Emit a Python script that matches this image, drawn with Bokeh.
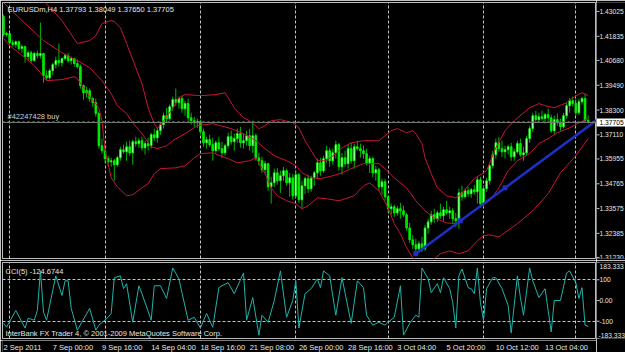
from bokeh.plotting import figure
from bokeh.layouts import row, column
from bokeh.models import Range1d, FixedTicker, Grid, ColumnDataSource, Span
from bokeh.core.properties import value
from bokeh.embed import file_html
from bokeh.resources import INLINE

# ---------------- data ----------------
SYMBOL = "EURUSDm,H4"

opens = [
    1.4278, 1.4192, 1.4197, 1.4153, 1.4144, 1.4158, 1.4125, 1.4134, 1.4086, 1.4105,
    1.4067, 1.4101, 1.4091, 1.4101, 1.3995, 1.3985, 1.4019, 1.4048, 1.4067, 1.4057,
    1.4077, 1.4091, 1.4067, 1.4077, 1.4053, 1.4038, 1.3947, 1.3913, 1.3923, 1.3885,
    1.3865, 1.3813, 1.3659, 1.3635, 1.3597, 1.3582, 1.3587, 1.3568, 1.3601, 1.3640,
    1.3630, 1.3654, 1.3625, 1.3678, 1.3669, 1.3683, 1.3649, 1.3669, 1.3659, 1.3712,
    1.3697, 1.3731, 1.3760, 1.3803, 1.3789, 1.3846, 1.3880, 1.3865, 1.3885, 1.3837,
    1.3861, 1.3793, 1.3779, 1.3769, 1.3774, 1.3726, 1.3673, 1.3688, 1.3664, 1.3635,
    1.3673, 1.3645, 1.3625, 1.3659, 1.3702, 1.3678, 1.3693, 1.3717, 1.3673, 1.3683,
    1.3707, 1.3659, 1.3707, 1.3601, 1.3587, 1.3544, 1.3573, 1.3462, 1.3481, 1.3529,
    1.3491, 1.3515, 1.3539, 1.3481, 1.3505, 1.3419, 1.3520, 1.3400, 1.3467, 1.3501,
    1.3453, 1.3505, 1.3529, 1.3577, 1.3539, 1.3597, 1.3635, 1.3587, 1.3625, 1.3664,
    1.3558, 1.3601, 1.3573, 1.3645, 1.3587, 1.3654, 1.3645, 1.3635, 1.3621, 1.3577,
    1.3597, 1.3529, 1.3544, 1.3462, 1.3486, 1.3414, 1.3357, 1.3366, 1.3337, 1.3357,
    1.3347, 1.3328, 1.3265, 1.3208, 1.3184, 1.3165, 1.3189, 1.3165, 1.3265, 1.3294,
    1.3328, 1.3309, 1.3337, 1.3323, 1.3352, 1.3337, 1.3347, 1.3309, 1.3299, 1.3433,
    1.3414, 1.3443, 1.3429, 1.3448, 1.3438, 1.3496, 1.3381, 1.3453, 1.3491, 1.3563,
    1.3616, 1.3673, 1.3645, 1.3630, 1.3640, 1.3654, 1.3606, 1.3630, 1.3669, 1.3616,
    1.3625, 1.3693, 1.3741, 1.3803, 1.3784, 1.3798, 1.3789, 1.3808, 1.3793, 1.3731,
    1.3784, 1.3769, 1.3750, 1.3803, 1.3851, 1.3875, 1.3861, 1.3817, 1.3870, 1.3885,
    1.37793,
]
highs = [
    1.4288, 1.4206, 1.4201, 1.4168, 1.4163, 1.4163, 1.4144, 1.4139, 1.4115, 1.4115,
    1.4110, 1.4115, 1.4249, 1.4105, 1.4019, 1.4029, 1.4057, 1.4086, 1.4149, 1.4081,
    1.4101, 1.4105, 1.4086, 1.4081, 1.4072, 1.4048, 1.3952, 1.3942, 1.3933, 1.3894,
    1.3885, 1.3822, 1.3693, 1.3645, 1.3611, 1.3601, 1.3597, 1.3611, 1.3654, 1.3664,
    1.3678, 1.3683, 1.3688, 1.3702, 1.3697, 1.3702, 1.3683, 1.3697, 1.3721, 1.3741,
    1.3745, 1.3774, 1.3817, 1.3841, 1.3856, 1.3894, 1.3933, 1.3894, 1.3899, 1.3875,
    1.3885, 1.3817, 1.3798, 1.3789, 1.3784, 1.3741, 1.3702, 1.3712, 1.3697, 1.3683,
    1.3702, 1.3678, 1.3669, 1.3721, 1.3731, 1.3717, 1.3741, 1.3750, 1.3717, 1.3731,
    1.3741, 1.3779, 1.3717, 1.3625, 1.3606, 1.3587, 1.3577, 1.3510, 1.3549, 1.3553,
    1.3539, 1.3558, 1.3549, 1.3529, 1.3525, 1.3539, 1.3529, 1.3491, 1.3510, 1.3520,
    1.3515, 1.3539, 1.3597, 1.3601, 1.3611, 1.3659, 1.3649, 1.3645, 1.3683, 1.3673,
    1.3625, 1.3635, 1.3664, 1.3673, 1.3669, 1.3683, 1.3669, 1.3659, 1.3645, 1.3611,
    1.3606, 1.3563, 1.3553, 1.3501, 1.3501, 1.3424, 1.3381, 1.3376, 1.3371, 1.3385,
    1.3371, 1.3337, 1.3289, 1.3232, 1.3213, 1.3203, 1.3222, 1.3280, 1.3309, 1.3347,
    1.3357, 1.3347, 1.3381, 1.3366, 1.3395, 1.3366, 1.3361, 1.3337, 1.3453, 1.3467,
    1.3453, 1.3462, 1.3457, 1.3472, 1.3510, 1.3510, 1.3467, 1.3505, 1.3577, 1.3635,
    1.3693, 1.3702, 1.3683, 1.3659, 1.3664, 1.3673, 1.3645, 1.3683, 1.3693, 1.3654,
    1.3707, 1.3755, 1.3817, 1.3827, 1.3817, 1.3827, 1.3817, 1.3837, 1.3808, 1.3803,
    1.3813, 1.3789, 1.3817, 1.3865, 1.3889, 1.3894, 1.3885, 1.3885, 1.3894, 1.3909,
    1.38049,
]
lows = [
    1.4182, 1.4182, 1.4144, 1.4134, 1.4129, 1.4115, 1.4105, 1.4057, 1.4067, 1.4057,
    1.4062, 1.4077, 1.4077, 1.3961, 1.3971, 1.3976, 1.4000, 1.4029, 1.4038, 1.4038,
    1.4067, 1.4057, 1.4048, 1.4038, 1.4029, 1.3933, 1.3880, 1.3889, 1.3870, 1.3846,
    1.3798, 1.3645, 1.3621, 1.3577, 1.3563, 1.3558, 1.3491, 1.3558, 1.3587, 1.3621,
    1.3587, 1.3611, 1.3568, 1.3654, 1.3649, 1.3635, 1.3616, 1.3635, 1.3645, 1.3683,
    1.3673, 1.3712, 1.3741, 1.3769, 1.3779, 1.3827, 1.3851, 1.3837, 1.3817, 1.3803,
    1.3779, 1.3760, 1.3750, 1.3745, 1.3712, 1.3654, 1.3645, 1.3654, 1.3587, 1.3625,
    1.3635, 1.3601, 1.3611, 1.3645, 1.3664, 1.3635, 1.3673, 1.3649, 1.3645, 1.3659,
    1.3635, 1.3625, 1.3587, 1.3563, 1.3529, 1.3525, 1.3443, 1.3381, 1.3462, 1.3472,
    1.3433, 1.3491, 1.3467, 1.3414, 1.3400, 1.3409, 1.3385, 1.3357, 1.3429, 1.3433,
    1.3438, 1.3467, 1.3501, 1.3515, 1.3529, 1.3577, 1.3558, 1.3568, 1.3597, 1.3539,
    1.3520, 1.3558, 1.3549, 1.3573, 1.3549, 1.3635, 1.3601, 1.3597, 1.3563, 1.3529,
    1.3510, 1.3491, 1.3443, 1.3424, 1.3395, 1.3337, 1.3328, 1.3318, 1.3323, 1.3309,
    1.3318, 1.3251, 1.3193, 1.3165, 1.3141, 1.3145, 1.3150, 1.3155, 1.3237, 1.3280,
    1.3289, 1.3294, 1.3309, 1.3299, 1.3328, 1.3309, 1.3289, 1.3270, 1.3261, 1.3395,
    1.3405, 1.3414, 1.3409, 1.3424, 1.3381, 1.3361, 1.3366, 1.3438, 1.3472, 1.3549,
    1.3597, 1.3630, 1.3606, 1.3597, 1.3616, 1.3587, 1.3587, 1.3621, 1.3606, 1.3587,
    1.3611, 1.3673, 1.3726, 1.3769, 1.3769, 1.3779, 1.3765, 1.3779, 1.3721, 1.3712,
    1.3755, 1.3731, 1.3741, 1.3789, 1.3817, 1.3846, 1.3803, 1.3808, 1.3856, 1.3774,
    1.37650,
]
closes = [
    1.4192, 1.4197, 1.4153, 1.4144, 1.4158, 1.4125, 1.4134, 1.4086, 1.4105, 1.4067,
    1.4101, 1.4091, 1.4101, 1.3995, 1.3985, 1.4019, 1.4048, 1.4067, 1.4057, 1.4077,
    1.4091, 1.4067, 1.4077, 1.4053, 1.4038, 1.3947, 1.3913, 1.3923, 1.3885, 1.3865,
    1.3813, 1.3659, 1.3635, 1.3597, 1.3582, 1.3587, 1.3568, 1.3601, 1.3640, 1.3630,
    1.3654, 1.3625, 1.3678, 1.3669, 1.3683, 1.3649, 1.3669, 1.3659, 1.3712, 1.3697,
    1.3731, 1.3760, 1.3803, 1.3789, 1.3846, 1.3880, 1.3865, 1.3885, 1.3837, 1.3861,
    1.3793, 1.3779, 1.3769, 1.3774, 1.3726, 1.3673, 1.3688, 1.3664, 1.3635, 1.3673,
    1.3645, 1.3625, 1.3659, 1.3702, 1.3678, 1.3693, 1.3717, 1.3673, 1.3683, 1.3707,
    1.3659, 1.3707, 1.3601, 1.3587, 1.3544, 1.3573, 1.3462, 1.3481, 1.3529, 1.3491,
    1.3515, 1.3539, 1.3481, 1.3505, 1.3419, 1.3520, 1.3400, 1.3467, 1.3501, 1.3453,
    1.3505, 1.3529, 1.3577, 1.3539, 1.3597, 1.3635, 1.3587, 1.3625, 1.3664, 1.3558,
    1.3601, 1.3573, 1.3645, 1.3587, 1.3654, 1.3645, 1.3635, 1.3621, 1.3577, 1.3597,
    1.3529, 1.3544, 1.3462, 1.3486, 1.3414, 1.3357, 1.3366, 1.3337, 1.3357, 1.3347,
    1.3328, 1.3265, 1.3208, 1.3184, 1.3165, 1.3189, 1.3165, 1.3265, 1.3294, 1.3328,
    1.3309, 1.3337, 1.3323, 1.3352, 1.3337, 1.3347, 1.3309, 1.3299, 1.3433, 1.3414,
    1.3443, 1.3429, 1.3448, 1.3438, 1.3496, 1.3381, 1.3453, 1.3491, 1.3563, 1.3616,
    1.3673, 1.3645, 1.3630, 1.3640, 1.3654, 1.3606, 1.3630, 1.3669, 1.3616, 1.3625,
    1.3693, 1.3741, 1.3803, 1.3784, 1.3798, 1.3789, 1.3808, 1.3793, 1.3731, 1.3784,
    1.3769, 1.3750, 1.3803, 1.3851, 1.3875, 1.3861, 1.3817, 1.3870, 1.3885, 1.3779,
    1.37705,
]

# Bollinger bands, read at the bars where they bend
upper_bars = [0, 6, 13, 19, 24, 28, 30, 32, 35, 36, 38, 40, 43, 45, 47, 49, 50, 52, 55, 57,
              59, 64, 69, 72, 75, 78, 80, 83, 85, 87, 90, 94, 96, 98, 100, 102, 105, 108, 110, 113,
              117, 122, 124, 126, 128, 131, 133, 134, 136, 137, 139, 141, 144, 147, 149, 151, 153, 157, 160, 163,
              166, 171, 174, 176, 179, 183, 185, 188, 190]
upper_vals = [1.4523, 1.4451, 1.4355, 1.4259, 1.4149, 1.4163, 1.4187, 1.4245, 1.4259, 1.4254,
              1.4225, 1.4149, 1.4033, 1.3957, 1.3841, 1.3765, 1.3741, 1.3779, 1.3837, 1.3889,
              1.3904, 1.3899, 1.3904, 1.3913, 1.3841, 1.3793, 1.3779, 1.3741, 1.3755, 1.3779,
              1.3784, 1.3769, 1.3745, 1.3683, 1.3635, 1.3587, 1.3587, 1.3621, 1.3649, 1.3673,
              1.3683, 1.3683, 1.3707, 1.3731, 1.3741, 1.3721, 1.3731, 1.3717, 1.3669, 1.3601,
              1.3525, 1.3457, 1.3419, 1.3409, 1.3429, 1.3467, 1.3501, 1.3539, 1.3649, 1.3731,
              1.3779, 1.3841, 1.3861, 1.3851, 1.3841, 1.3865, 1.3889, 1.3913, 1.3899]
mid_bars = [0, 6, 13, 19, 24, 28, 32, 35, 37, 40, 42, 45, 48, 50, 53, 55, 59, 63, 68, 74,
            78, 82, 85, 88, 92, 95, 97, 100, 103, 107, 110, 113, 117, 122, 124, 127, 131, 134, 137, 140,
            144, 147, 150, 153, 158, 161, 164, 167, 171, 174, 177, 180, 184, 187, 190]
mid_vals = [1.4345, 1.4259, 1.4163, 1.4105, 1.4067, 1.4033, 1.3971, 1.3909, 1.3851, 1.3813,
            1.3769, 1.3717, 1.3654, 1.3645, 1.3659, 1.3683, 1.3717, 1.3755, 1.3765, 1.3741,
            1.3717, 1.3683, 1.3645, 1.3611, 1.3587, 1.3563, 1.3529, 1.3505, 1.3501, 1.3515,
            1.3529, 1.3549, 1.3573, 1.3573, 1.3549, 1.3505, 1.3457, 1.3395, 1.3347, 1.3313,
            1.3289, 1.3285, 1.3313, 1.3347, 1.3395, 1.3457, 1.3539, 1.3587, 1.3621, 1.3669,
            1.3693, 1.3721, 1.3745, 1.3769, 1.3789]
lower_bars = [0, 2, 7, 10, 12, 14, 19, 23, 24, 26, 29, 30, 31, 32, 33, 34, 35, 37, 40, 42,
              45, 47, 49, 51, 56, 59, 62, 64, 68, 73, 76, 80, 82, 85, 87, 89, 92, 95, 97, 99,
              102, 105, 109, 112, 114, 117, 119, 122, 125, 127, 129, 131, 133, 136, 140, 142, 145, 148, 151, 154,
              156, 158, 161, 167, 172, 177, 181, 186, 190]
lower_vals = [1.4173, 1.4139, 1.4081, 1.4043, 1.4009, 1.3971, 1.3976, 1.3990, 1.3981, 1.3937,
              1.3875, 1.3861, 1.3837, 1.3779, 1.3635, 1.3573, 1.3505, 1.3462, 1.3419, 1.3424,
              1.3457, 1.3477, 1.3525, 1.3549, 1.3553, 1.3563, 1.3601, 1.3621, 1.3625, 1.3597,
              1.3577, 1.3587, 1.3601, 1.3525, 1.3457, 1.3419, 1.3395, 1.3381, 1.3357, 1.3371,
              1.3409, 1.3405, 1.3395, 1.3409, 1.3419, 1.3467, 1.3481, 1.3443, 1.3361, 1.3285,
              1.3237, 1.3170, 1.3121, 1.3097, 1.3117, 1.3141, 1.3155, 1.3141, 1.3155, 1.3203,
              1.3227, 1.3232, 1.3222, 1.3285, 1.3347, 1.3429, 1.3529, 1.3611, 1.3693]

# CCI(5), read at its turning points
cci_bars = [0, 1, 4, 7, 8, 10, 11, 12, 13, 14, 17, 19, 20, 21, 22, 24, 28, 30, 31, 34,
            35, 36, 38, 39, 40, 42, 44, 45, 48, 49, 51, 53, 55, 57, 58, 60, 62, 64, 66, 68,
            70, 71, 73, 75, 78, 79, 81, 83, 84, 86, 88, 90, 92, 94, 95, 96, 98, 100, 102, 103,
            104, 106, 108, 110, 113, 115, 117, 118, 120, 122, 124, 125, 127, 129, 130, 132, 134, 135, 136, 138,
            139, 141, 142, 143, 145, 146, 147, 148, 149, 151, 152, 153, 154, 155, 156, 157, 159, 160, 162, 164,
            165, 167, 168, 169, 171, 172, 174, 176, 178, 179, 181, 183, 184, 186, 187, 188, 189, 190]
cci_vals = [-110, -129, -48, -133, -86, -95, -48, 143, -57, -95, 119, 24, 95, 95, -38, -143, -38, -143, -119, -81,
            -62, 110, 119, 57, 81, -105, 71, 33, -95, 71, 71, 10, 157, 105, 38, -95, -81, -133, -62, -129,
            62, 71, 86, 33, 133, -95, 14, -167, -71, -105, 0, 143, -81, 0, 95, -133, 33, 57, 105, 62,
            143, 119, -71, 110, -110, 95, 62, -71, -119, -105, -119, -105, -81, 71, -167, -110, -71, -81, 157, 105,
            38, 81, 38, 110, 57, -10, -133, 119, 152, 62, 57, 33, 157, -10, -95, 57, 110, 110, 57, -24,
            -157, 119, 14, -71, 157, 95, 14, 57, -152, 0, 0, 133, 143, 86, 10, 62, -119, -124.6744]

# trend line anchors (bar, price)
trend_bars = [134, 163]
trend_prices = [1.3141, 1.3457]

order_price = 1.37740
order_label = "#42247428 buy"
bid = 1.37705

price_ticks = [1.43025, 1.41835, 1.40680, 1.39490, 1.38300, 1.37110,
               1.35955, 1.34765, 1.33575, 1.32385, 1.31230]
cci_mid_ticks = [100, 0, -100]
cci_mid_labels = ["100", "0.00", "-100"]
cci_max = 183.333
cci_levels = [100, -100]
grid_bars = [2, 33, 64, 95, 125, 156, 186]
date_bars = [0, 16, 32, 48, 64, 80, 96, 112, 128, 144, 160, 176]
date_labels = ["2 Sep 2011", "7 Sep 00:00", "9 Sep 16:00", "14 Sep 04:00", "18 Sep 16:00",
               "21 Sep 08:00", "26 Sep 00:00", "28 Sep 16:00", "3 Oct 04:00", "5 Oct 20:00",
               "10 Oct 12:00", "13 Oct 04:00"]
copyright_text = "InterBank FX Trader 4, \u00a9 2001-2009 MetaQuotes Software Corp."

# ---------------- styling ----------------
FONT = value("Liberation Sans")
FS = "7.5px"
FS_AX = "6.7px"
TXT = "#e6e6e6"
GRIDC = "#c4c4c4"
BORDER = "#bdbdbd"
BB = "#c8143a"
WICK = "#00b400"
BLUE = "#1e30c4"

xr = Range1d(-0.325, 192.72)
yr = Range1d(1.31182, 1.434565)
cyr = Range1d(-cci_max, cci_max)


def panel(w, h, x_range, y_range, left, right, top, bottom, outline=None):
    f = figure(width=w, height=h, x_range=x_range, y_range=y_range, title=None,
               output_backend="svg", toolbar_location=None,
               x_axis_location=None, y_axis_location=None,
               min_border_left=left, min_border_right=right,
               min_border_top=top, min_border_bottom=bottom)
    f.background_fill_color = "black"
    f.border_fill_color = "black"
    f.outline_line_color = outline
    f.grid.visible = False
    return f


def tx(f, x, y, text, **kw):
    opts = dict(text_font=FONT, text_font_size=FS, text_color=TXT,
                text_align="left", text_baseline="middle")
    opts.update(kw)
    f.text(x=x, y=y, text=text, **opts)


# ---------------- main price panel ----------------
main = panel(596, 260, xr, yr, 2, 0, 2, 2, BORDER)
main.add_layout(Grid(dimension=0, ticker=FixedTicker(ticks=grid_bars),
                     grid_line_color=GRIDC, grid_line_dash="3 2", grid_line_width=1))

main.add_layout(Span(location=bid, dimension="width", line_color="#7a7a7a", line_width=1))
main.add_layout(Span(location=order_price, dimension="width", line_color="#3fa03f",
                     line_width=1, line_dash="2 3"))

n = len(closes)
bars = list(range(n))
is_up = [c >= o for o, c in zip(opens, closes)]
all_src = ColumnDataSource(dict(x=bars, high=highs, low=lows))
up_src = ColumnDataSource(dict(
    x=[i for i in bars if is_up[i]],
    top=[closes[i] for i in bars if is_up[i]],
    bottom=[opens[i] for i in bars if is_up[i]]))
dn_src = ColumnDataSource(dict(
    x=[i for i in bars if not is_up[i]],
    top=[opens[i] for i in bars if not is_up[i]],
    bottom=[closes[i] for i in bars if not is_up[i]]))

main.segment(x0="x", y0="low", x1="x", y1="high", source=all_src, line_color=WICK, line_width=1)
main.vbar(x="x", width=0.55, top="top", bottom="bottom", source=up_src,
          fill_color="#c8ffc8", line_color="#00ff00", line_width=0.8)
main.vbar(x="x", width=0.55, top="top", bottom="bottom", source=dn_src,
          fill_color="#00e000", line_color="#00ff00", line_width=0.8)

main.line(upper_bars, upper_vals, line_color=BB, line_width=1)
main.line(mid_bars, mid_vals, line_color=BB, line_width=1)
main.line(lower_bars, lower_vals, line_color=BB, line_width=1)

slope = (trend_prices[1] - trend_prices[0]) / (trend_bars[1] - trend_bars[0])
main.line([trend_bars[0], xr.end],
          [trend_prices[0], trend_prices[0] + slope * (xr.end - trend_bars[0])],
          line_color=BLUE, line_width=2.5)
main.scatter([trend_bars[0], (trend_bars[0] + trend_bars[1]) / 2, trend_bars[1]],
             [trend_prices[0], (trend_prices[0] + trend_prices[1]) / 2, trend_prices[1]],
             marker="square", size=4, fill_color=BLUE, line_color=BLUE)

header = f"{SYMBOL}  {opens[-1]:.5f} {highs[-1]:.5f} {lows[-1]:.5f} {closes[-1]:.5f}"
tx(main, [xr.start], [yr.end], [header], x_offset=5, y_offset=2, text_baseline="top")
tx(main, [xr.start], [order_price], [order_label], x_offset=5, y_offset=-1,
   text_baseline="bottom", text_color="#d0d0d0")

# ---------------- CCI panel ----------------
cci = panel(596, 80, xr, cyr, 2, 0, 2, 2, BORDER)
cci.add_layout(Grid(dimension=0, ticker=FixedTicker(ticks=grid_bars),
                    grid_line_color=GRIDC, grid_line_dash="3 2", grid_line_width=1))
cci.add_layout(Grid(dimension=1, ticker=FixedTicker(ticks=cci_levels),
                    grid_line_color=GRIDC, grid_line_dash="3 2", grid_line_width=1))
cci.line(cci_bars, cci_vals, line_color="#20b2aa", line_width=1)
tx(cci, [xr.start], [cyr.end], [f"CCI(5) {cci_vals[-1]:.4f}"], x_offset=3, y_offset=4,
   text_baseline="top")
tx(cci, [xr.start], [cyr.start], [copyright_text], x_offset=3, y_offset=-1,
   text_baseline="bottom")

# ---------------- time labels ----------------
dates = panel(596, 12, xr, Range1d(0, 1), 2, 0, 0, 0, None)
tx(dates, date_bars, [1] * len(date_bars), date_labels, y_offset=2, text_baseline="top")

# ---------------- right price scale ----------------
pax = panel(29, 260, Range1d(0, 29), yr, 0, 0, 2, 2, None)
pax.segment(x0=0, y0=price_ticks, x1=3, y1=price_ticks, line_color="#c0c0c0", line_width=1)
tx(pax, [3] * len(price_ticks), price_ticks, [f"{v:.5f}" for v in price_ticks],
   text_font_size=FS_AX)
pax.rect(x=[14.5], y=[bid], width=29, height=8, height_units="screen",
         fill_color="white", line_color=None)
tx(pax, [3], [bid], [f"{bid:.5f}"], text_color="black", text_font_size=FS_AX)

# ---------------- right CCI scale ----------------
cax = panel(29, 92, Range1d(0, 29), cyr, 0, 0, 2, 14, None)
cax.segment(x0=0, y0=cci_mid_ticks + [cci_max, -cci_max], x1=3,
            y1=cci_mid_ticks + [cci_max, -cci_max], line_color="#c0c0c0", line_width=1)
tx(cax, [3] * 3, cci_mid_ticks, cci_mid_labels, text_font_size=FS_AX)
tx(cax, [3], [cci_max], [f"{cci_max:.3f}"], text_baseline="top", y_offset=1,
   text_font_size=FS_AX)
tx(cax, [2], [-cci_max], [f"{-cci_max:.3f}"], text_baseline="bottom", y_offset=-1,
   text_font_size=FS_AX)

layout = row(column(main, cci, dates), column(pax, cax))
open("out.html", "w").write(file_html(layout, INLINE))
